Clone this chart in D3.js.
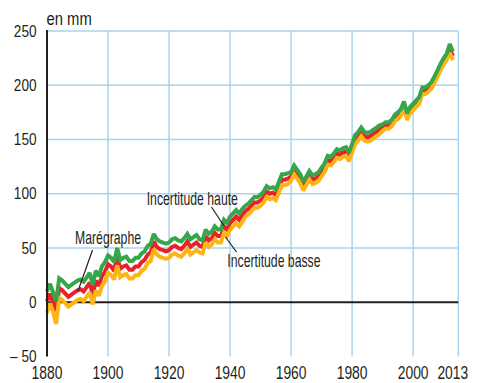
<!DOCTYPE html>
<html>
<head>
<meta charset="utf-8">
<script src="https://cdn.jsdelivr.net/npm/d3@7"></script>
<style>
    body { margin: 0; background: #fff; }
    #chart { width: 477px; height: 383px; }
    text { font-family: "Liberation Sans", Arial, sans-serif; fill: #231f20; }
</style>
</head>
<body>
<div id="chart"></div>
<script>

var firstYear = 1880;

// niveau moyen (marégraphe), en mm
var maregraphe = [
    1, 8, 0, -8, 13, 11, 8, 5, 7, 9, 11, 12, 10, 14, 18, 7, 20, 15, 24, 28,
    35, 33, 29, 42, 31, 33, 34, 30, 30, 33, 33, 37, 39, 44, 46,
    56, 51, 49, 48, 47, 48, 51, 52, 50, 49, 52, 56, 51, 53, 55,
    52, 51, 61, 57, 59, 64, 61, 61, 70, 67, 73, 76, 79, 76, 80,
    84, 86, 89, 92, 92, 94, 97, 102, 100, 101, 99, 106, 113, 113, 114,
    116, 122, 118, 114, 107, 112, 117, 113, 114, 116, 120, 124, 131, 130, 133,
    137, 136, 138, 139, 134, 142, 150, 153, 157, 153, 152, 153, 155, 157, 159,
    161, 163, 163, 165, 170, 172, 175, 182, 171, 177, 180, 183, 186, 195, 195,
    197, 200, 205, 211, 217, 222, 226, 234, 227
];

var incertitudeHaute = [
    10, 17, 9, 1, 22, 20, 17, 14, 16, 18, 20, 21, 19, 23, 27, 16, 29, 24, 33, 37,
    43, 41, 37, 50, 39, 41, 42, 38, 38, 41, 41, 45, 47, 52, 54,
    63, 58, 56, 55, 54, 55, 58, 59, 57, 56, 59, 63, 58, 60, 62,
    58, 57, 67, 63, 65, 70, 67, 67, 76, 73, 79, 82, 85, 82, 86,
    89, 91, 94, 97, 97, 99, 102, 107, 105, 106, 104, 111, 118, 118, 119,
    120, 126, 122, 118, 111, 116, 121, 117, 118, 120, 124, 128, 135, 134, 137,
    141, 140, 142, 143, 138, 146, 154, 157, 161, 157, 156, 157, 159, 161, 163,
    164, 166, 166, 168, 173, 175, 178, 185, 174, 180, 183, 186, 189, 198, 198,
    200, 203, 208, 214, 220, 225, 229, 238, 231
];

var incertitudeBasse = [
    -10, -1, -9, -20, 4, 2, -1, -4, -2, 0, 2, 3, 1, 5, 9, -2, 11, 6, 15, 19,
    27, 25, 21, 34, 23, 25, 26, 22, 22, 25, 25, 29, 31, 36, 38,
    49, 44, 42, 41, 40, 41, 44, 45, 43, 42, 45, 49, 44, 46, 48,
    46, 45, 55, 51, 53, 58, 55, 55, 64, 61, 67, 70, 73, 70, 74,
    79, 81, 84, 87, 87, 89, 92, 97, 95, 96, 94, 101, 108, 108, 109,
    112, 118, 114, 110, 103, 108, 113, 109, 110, 112, 116, 120, 127, 126, 129,
    133, 132, 134, 135, 130, 138, 146, 149, 153, 149, 148, 149, 151, 153, 155,
    158, 160, 160, 162, 167, 169, 172, 179, 168, 174, 177, 180, 183, 192, 192,
    194, 197, 202, 208, 214, 219, 223, 230, 223
];

var xTicks = [1880, 1900, 1920, 1940, 1960, 1980, 2000, 2013];
var xGrid = [1900, 1920, 1940, 1960, 1980, 2000];
var yTicks = [-50, 0, 50, 100, 150, 200, 250];
var yGrid = [50, 100, 150, 200, 250];

var labels = [
    { text: "Marégraphe", x: 75, y: 243.5, line: [[92.5, 250], [78, 291]] },
    { text: "Incertitude haute", x: 146.7, y: 205, line: [[211.5, 207], [224, 226]] },
    { text: "Incertitude basse", x: 227.3, y: 266.5, line: [[225.5, 237], [236.5, 252]] }
];

var width = 477;
var height = 383;

var svg = d3.select("#chart")
    .append("svg")
    .attr("width", width)
    .attr("height", height);

var xScale = d3.scaleLinear()
    .domain([1880, 2014.8])
    .range([47, 458.3]);

var yScale = d3.scaleLinear()
    .domain([-50, 250])
    .range([356.5, 31]);

var gridColor = "#a9d4ee";

// police condensée : on resserre le texte horizontalement
function place(x, y, sx) {
    return "translate(" + x + "," + y + ") scale(" + sx + ",1)";
}

// grille
svg.selectAll("line.hgrid")
    .data(yGrid)
    .enter()
    .append("line")
        .attr("class", "hgrid")
        .attr("x1", xScale(1880))
        .attr("x2", xScale.range()[1])
        .attr("y1", function(d) { return yScale(d); })
        .attr("y2", function(d) { return yScale(d); })
        .attr("stroke", gridColor)
        .attr("stroke-width", 1.5);

svg.selectAll("line.vgrid")
    .data(xGrid.concat([xScale.domain()[1]]))
    .enter()
    .append("line")
        .attr("class", "vgrid")
        .attr("x1", function(d) { return xScale(d); })
        .attr("x2", function(d) { return xScale(d); })
        .attr("y1", yScale(250))
        .attr("y2", yScale(-50))
        .attr("stroke", gridColor)
        .attr("stroke-width", 1.5);

// ligne du zéro
svg.append("line")
    .attr("x1", xScale(1880))
    .attr("x2", xScale.range()[1])
    .attr("y1", yScale(0))
    .attr("y2", yScale(0))
    .attr("stroke", "#231f20")
    .attr("stroke-width", 2);

// courbes
var line = d3.line()
    .x(function(d, i) { return xScale(firstYear + i); })
    .y(function(d) { return yScale(d); });

var series = [
    { values: maregraphe, color: "#e8212b" },
    { values: incertitudeBasse, color: "#fdb515" },
    { values: incertitudeHaute, color: "#35a74a" }
];

svg.selectAll("path.serie")
    .data(series)
    .enter()
    .append("path")
        .attr("class", "serie")
        .attr("d", function(d) { return line(d.values); })
        .attr("fill", "none")
        .attr("stroke", function(d) { return d.color; })
        .attr("stroke-width", 4)
        .attr("stroke-linejoin", "miter")
        .attr("stroke-miterlimit", 2);

// axe vertical
svg.append("line")
    .attr("x1", xScale(1880))
    .attr("x2", xScale(1880))
    .attr("y1", yScale(250) - 1)
    .attr("y2", yScale(-50))
    .attr("stroke", "#231f20")
    .attr("stroke-width", 2);

svg.selectAll("text.ytick")
    .data(yTicks)
    .enter()
    .append("text")
        .attr("class", "ytick")
        .attr("transform", function(d) { return place(36.5, yScale(d) + 5.5, 0.8); })
        .attr("text-anchor", "end")
        .style("font-size", "17px")
        .text(function(d) { return d < 0 ? "– " + Math.abs(d) : d; });

svg.selectAll("text.xtick")
    .data(xTicks)
    .enter()
    .append("text")
        .attr("class", "xtick")
        .attr("transform", function(d) { return place(xScale(d), 378.5, 0.75); })
        .attr("text-anchor", "middle")
        .style("font-size", "18.5px")
        .text(function(d) { return d; });

svg.append("text")
    .attr("transform", place(46.5, 25, 0.78))
    .style("font-size", "19px")
    .text("en mm");

// annotations
svg.selectAll("text.label")
    .data(labels)
    .enter()
    .append("text")
        .attr("class", "label")
        .attr("transform", function(d) { return place(d.x, d.y, 0.7); })
        .style("font-size", "17.5px")
        .text(function(d) { return d.text; });

svg.selectAll("path.leader")
    .data(labels)
    .enter()
    .append("path")
        .attr("class", "leader")
        .attr("d", function(d) { return d3.line()(d.line); })
        .attr("stroke", "#231f20")
        .attr("stroke-width", 1.2)
        .attr("fill", "none");

</script>
</body>
</html>
